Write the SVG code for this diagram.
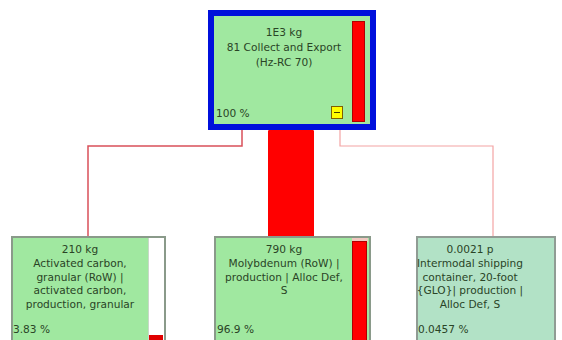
<svg xmlns="http://www.w3.org/2000/svg" width="562" height="340" viewBox="0 0 562 340">
<style>
  .t { font-family: "DejaVu Sans", Verdana, sans-serif; font-size: 10.6px; fill: #2a4426; text-anchor: middle; }
  .p { font-family: "DejaVu Sans", Verdana, sans-serif; font-size: 10.6px; fill: #2a4426; }
  .node { fill: #a0e8a0; stroke: #8a9a8a; stroke-width: 2; }
  .bar { fill: #ff0000; stroke: #b00000; stroke-width: 1; }
</style>
<rect width="562" height="340" fill="#ffffff"/>
<g id="connectors">
  <path d="M268,237 L268,131 Q270,127 276,126 L306,126 Q312,127 314,131 L314,237 Z" fill="#ff0000"/>
  <polyline points="242,130 242,146 88,146 88,237" fill="none" stroke="#d9505a" stroke-width="1.5"/>
  <polyline points="340,130 340,146 493,146 493,237" fill="none" stroke="#f4a4a4" stroke-width="1.2"/>
</g>
<g id="node-root">
  <rect x="211" y="13" width="162" height="114" fill="#a0e8a0" stroke="#0010dc" stroke-width="6"/>
  <rect x="352.5" y="21.5" width="12" height="100" class="bar"/>
  <rect x="331.5" y="106.5" width="11" height="12" fill="#ffff00" stroke="#806000" stroke-width="1"/>
  <line x1="334" y1="112.5" x2="340" y2="112.5" stroke="#404000" stroke-width="1"/>
  <text class="t" x="284" y="36">1E3 kg</text>
  <text class="t" x="284" y="51">81 Collect and Export</text>
  <text class="t" x="284" y="66">(Hz-RC 70)</text>
  <text class="p" x="216" y="117">100 %</text>
</g>
<g id="node-carbon">
  <rect x="12" y="237" width="153" height="110" class="node"/>
  <rect x="148" y="238" width="16" height="108" fill="#ffffff"/>
  <line x1="148.5" y1="238" x2="148.5" y2="340" stroke="#c8d8c8" stroke-width="1"/>
  <rect x="149" y="335" width="14" height="6" fill="#e00000"/>
  <text class="t" x="80" y="253">210 kg</text>
  <text class="t" x="80" y="267">Activated carbon,</text>
  <text class="t" x="80" y="281">granular (RoW) |</text>
  <text class="t" x="80" y="294">activated carbon,</text>
  <text class="t" x="80" y="308">production, granular</text>
  <text class="p" x="13" y="333">3.83 %</text>
</g>
<g id="node-molybdenum">
  <rect x="215" y="237" width="155" height="110" class="node"/>
  <rect x="352" y="238" width="16" height="4" fill="#f0c8c0"/>
  <rect x="352.5" y="241.5" width="14" height="100" class="bar"/>
  <text class="t" x="284" y="253">790 kg</text>
  <text class="t" x="284" y="267">Molybdenum (RoW) |</text>
  <text class="t" x="284" y="281">production | Alloc Def,</text>
  <text class="t" x="284" y="294">S</text>
  <text class="p" x="217" y="333">96.9 %</text>
</g>
<g id="node-container">
  <rect x="417" y="237" width="138" height="110" fill="#b2e2c6" stroke="#909c94" stroke-width="2"/>
  <text class="t" x="470" y="253">0.0021 p</text>
  <text class="t" x="470" y="267">Intermodal shipping</text>
  <text class="t" x="470" y="281">container, 20-foot</text>
  <text class="t" x="470" y="294">{GLO}| production |</text>
  <text class="t" x="470" y="308">Alloc Def, S</text>
  <text class="p" x="418" y="333">0.0457 %</text>
</g>
</svg>
